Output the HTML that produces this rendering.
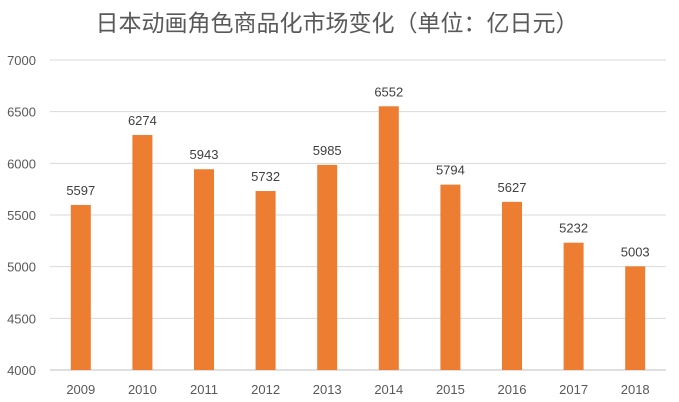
<!DOCTYPE html>
<html><head><meta charset="utf-8"><style>
body{margin:0;background:#fff;}
svg{display:block;font-family:"Liberation Sans","Noto Sans CJK SC",sans-serif;}
</style></head><body>
<svg width="679" height="402">
<text x="337" y="31" text-anchor="middle" font-size="23" fill="#595959">日本动画角色商品化市场变化（单位：亿日元）</text>
<g id="grid"></g><g id="bars"></g>
</svg>
<script>
const categories=["2009","2010","2011","2012","2013","2014","2015","2016","2017","2018"];
const values=[5597,6274,5943,5732,5985,6552,5794,5627,5232,5003];
const ticks=[4000,4500,5000,5500,6000,6500,7000];
const NS="http://www.w3.org/2000/svg";
const x0=50,x1=666,yTop=60,yBot=370,vmin=4000,vmax=7000;
const y=v=>yBot-(v-vmin)/(vmax-vmin)*(yBot-yTop);
const band=(x1-x0)/categories.length;
const xc=i=>x0+band*(i+0.5);
function mk(t,a,p){const e=document.createElementNS(NS,t);for(const k in a)e.setAttribute(k,a[k]);p.appendChild(e);return e;}
const g=document.getElementById('grid'),b=document.getElementById('bars');
ticks.forEach(t=>{
 const l=mk('line',{x1:x0,x2:x1,y1:y(t),y2:y(t),stroke:t===vmin?'#bfbfbf':'#d9d9d9','stroke-width':1},g);
 
 
 const tx=mk('text',{x:36,y:y(t)+5,'text-anchor':'end','font-size':13,fill:'#595959'},g);
 tx.textContent=t;
 
 
});
categories.forEach((c,i)=>{
 const r=mk('rect',{x:xc(i)-10,y:y(values[i]),width:20,height:yBot-y(values[i]),fill:'#ED7D31'},b);
 
 
 const v=mk('text',{x:xc(i),y:y(values[i])-10,'text-anchor':'middle','font-size':13,fill:'#404040'},b);
 v.textContent=values[i];
 
 
 const xl=mk('text',{x:xc(i),y:394,'text-anchor':'middle','font-size':13,fill:'#595959'},b);
 xl.textContent=c;
 
 
});
</script>
</body></html>
